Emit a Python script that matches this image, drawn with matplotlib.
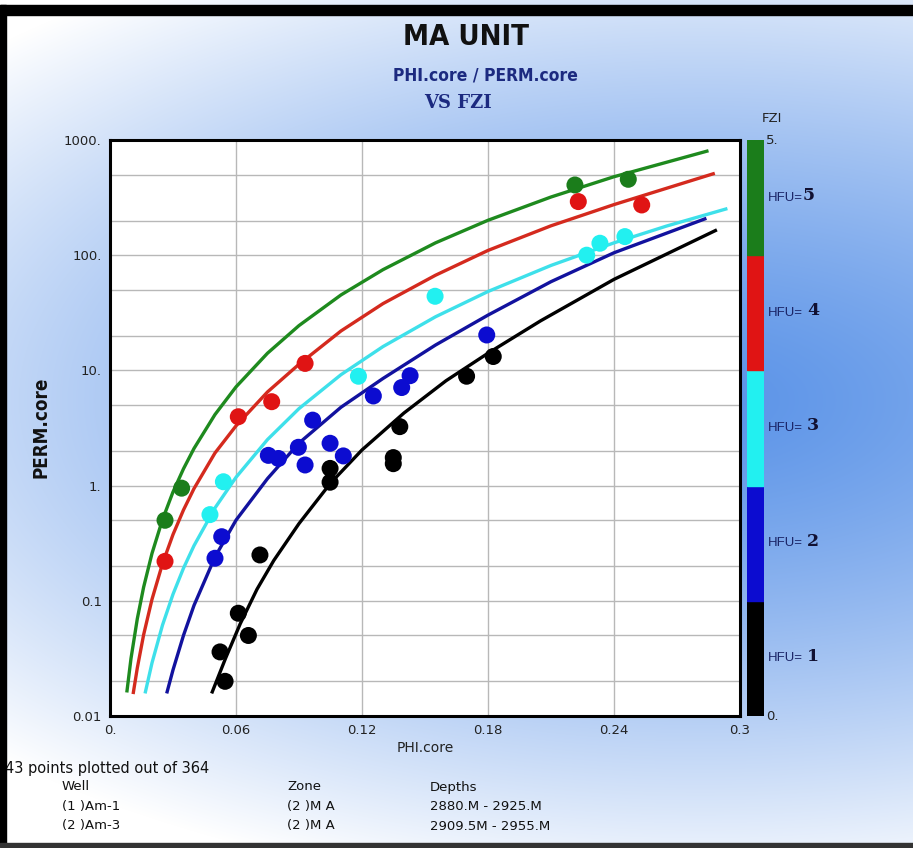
import numpy as np
import matplotlib.pyplot as plt
from matplotlib.patches import Rectangle

# FZI boundary curves (PHI.core, PERM.core)
phi_c5 = [0.008, 0.010, 0.013, 0.016, 0.020, 0.025, 0.030, 0.035, 0.040, 0.050,
          0.060, 0.075, 0.090, 0.110, 0.130, 0.155, 0.180, 0.210, 0.240, 0.285]
k_c5 = [0.016, 0.0316, 0.0698, 0.131, 0.258, 0.507, 0.881, 1.40, 2.10, 4.14,
        7.19, 14.1, 24.5, 45.2, 74.9, 128, 201, 320, 480, 807]

phi_c4 = [0.011, 0.013, 0.016, 0.020, 0.025, 0.030, 0.035, 0.040, 0.050, 0.060,
          0.075, 0.090, 0.110, 0.130, 0.155, 0.180, 0.210, 0.240, 0.288]
k_c4 = [0.0155, 0.0261, 0.0506, 0.103, 0.210, 0.376, 0.615, 0.942, 1.92, 3.3,
        6.5, 11.3, 22, 38, 67, 110, 180, 275, 514]

phi_c3 = [0.0167, 0.020, 0.025, 0.030, 0.035, 0.040, 0.050, 0.060, 0.075, 0.090,
          0.110, 0.130, 0.155, 0.180, 0.210, 0.240, 0.265, 0.294]
k_c3 = [0.0157, 0.0289, 0.0615, 0.114, 0.192, 0.301, 0.640, 1.18, 2.51, 4.66,
        9.18, 16.1, 29.2, 48.4, 81.5, 128, 179, 254]

phi_c2 = [0.027, 0.030, 0.035, 0.040, 0.050, 0.060, 0.075, 0.090, 0.110, 0.130,
          0.155, 0.180, 0.210, 0.240, 0.284]
k_c2 = [0.0157, 0.0251, 0.0501, 0.0912, 0.240, 0.501, 1.15, 2.34, 4.79, 8.51,
        16.6, 30.2, 58.9, 105, 209]

phi_c1 = [0.0484, 0.055, 0.062, 0.070, 0.078, 0.090, 0.105, 0.120, 0.140, 0.160,
          0.180, 0.205, 0.240, 0.289]
k_c1 = [0.0157, 0.0316, 0.0631, 0.126, 0.224, 0.468, 1.05, 2.04, 4.27, 8.13,
        14.1, 26.9, 61.7, 166]

# core samples by HFU
phi_h5 = [0.0262, 0.0341, 0.2214, 0.2468]
k_h5 = [0.50, 0.95, 407, 456]
phi_h4 = [0.0262, 0.0611, 0.0770, 0.0929, 0.2230, 0.2532]
k_h4 = [0.22, 3.96, 5.35, 11.5, 292, 273]
phi_h3 = [0.0476, 0.0540, 0.1183, 0.1548, 0.2270, 0.2333, 0.2452]
k_h3 = [0.56, 1.08, 8.9, 44, 100, 127, 145]
phi_h2 = [0.0500, 0.0532, 0.0754, 0.0802, 0.0897, 0.0929, 0.0965, 0.1048, 0.1111,
          0.1254, 0.1389, 0.1429, 0.1794]
k_h2 = [0.234, 0.36, 1.83, 1.72, 2.15, 1.51, 3.7, 2.33, 1.81, 6.0, 7.1, 9.0, 20.3]
phi_h1 = [0.0524, 0.0548, 0.0611, 0.0659, 0.0714, 0.1048, 0.1048, 0.1349, 0.1349,
          0.1380, 0.1698, 0.1825]
k_h1 = [0.036, 0.020, 0.078, 0.050, 0.25, 1.41, 1.07, 1.75, 1.55, 3.25, 8.9, 13.2]

hfu_labels = ['5', '4', '3', '2', '1']
hfu_cols = ['#1b7d1b', '#e01414', '#22f0f0', '#0c0cd0', '#000000']
line_cols = ['#1e8a1e', '#d42a1e', '#3ee0ea', '#12129e', '#000000']

xticks = [0, 0.06, 0.12, 0.18, 0.24, 0.3]
xticklabels = ['0.', '0.06', '0.12', '0.18', '0.24', '0.3']
yticks = [0.01, 0.1, 1, 10, 100, 1000]
yticklabels = ['0.01', '0.1', '1.', '10.', '100.', '1000.']

W, H = 913, 848
fig = plt.figure(figsize=(W / 100, H / 100), dpi=100)

# background gradient
bg = fig.add_axes([0, 0, 1, 1], zorder=-10)
yy, xx = np.mgrid[0:H, 0:W]
r = np.sqrt(((xx - 700) / 1000.0) ** 2 + ((yy - 400) / 500.0) ** 2)
v = np.clip(1 - r ** 1.3, 0, 1)
blue = np.array([92, 148, 232]) / 255.0
img = 1 - (1 - blue)[None, None, :] * v[:, :, None]
bg.imshow(img, extent=[0, W, H, 0], aspect='auto')
bg.set_xlim(0, W)
bg.set_ylim(H, 0)
bg.axis('off')

def fx(px):
    return px / W

def fy(py):
    return 1 - py / H

ax = fig.add_axes([fx(110), fy(716), fx(740) - fx(110), fy(140) - fy(716)])
ax.set_facecolor('white')
ax.set_yscale('log')
ax.set_xlim(0, 0.3)
ax.set_ylim(0.01, 1000)

curves = [(phi_c5, k_c5), (phi_c4, k_c4), (phi_c3, k_c3), (phi_c2, k_c2), (phi_c1, k_c1)]
points = [(phi_h5, k_h5), (phi_h4, k_h4), (phi_h3, k_h3), (phi_h2, k_h2), (phi_h1, k_h1)]
for (cx, cy), col in zip(curves, line_cols):
    ax.plot(cx, cy, color=col, lw=2.4, zorder=3, solid_capstyle='butt')
for (px, py), col in zip(points, hfu_cols):
    ax.scatter(px, py, s=150, color=col, edgecolors='none', zorder=4)

ax.set_xticks(xticks)
ax.set_xticklabels(xticklabels)
ax.set_yticks(yticks)
ax.set_yticklabels(yticklabels)
ax.set_yticks([m * d for d in [0.01, 0.1, 1, 10, 100] for m in (2, 5)], minor=True)
ax.yaxis.set_minor_formatter(plt.NullFormatter())
ax.tick_params(which='both', length=0, labelsize=9.5, labelcolor='#222222')
ax.tick_params(axis='x', pad=6)
ax.tick_params(axis='y', pad=6)
ax.grid(True, which='major', color='#b8b8b8', lw=1)
ax.grid(True, which='minor', axis='y', color='#b8b8b8', lw=1)
ax.set_axisbelow(True)
for s in ax.spines.values():
    s.set_linewidth(2.2)
    s.set_color('black')

ax.set_xlabel('PHI.core', fontsize=10, color='#222222', labelpad=3)
fig.text(fx(41), fy(427), 'PERM.core', rotation=90, fontsize=13.5, fontweight='bold',
         color='#111111', fontstretch='condensed', ha='center', va='center')

# HFU colour bar
cax = fig.add_axes([fx(747), fy(716), fx(764) - fx(747), fy(140) - fy(716)])
for i, col in enumerate(hfu_cols[::-1]):
    cax.add_patch(Rectangle((0, i), 1, 1, color=col))
cax.set_xlim(0, 1)
cax.set_ylim(0, 5)
cax.axis('off')
fig.text(fx(766), fy(140), '5.', fontsize=9.5, color='#222222', va='center')
fig.text(fx(766), fy(716), '0.', fontsize=9.5, color='#222222', va='center')
fig.text(fx(762), fy(119), 'FZI', fontsize=9.5, color='#222222', va='center')
for i, lab in enumerate(hfu_labels):
    yc = 140 + (i + 0.5) * 115.2
    fig.text(fx(768), fy(yc), 'HFU=', fontsize=9.5, family='Liberation Sans',
             color='#1a2466', va='center')
    fig.text(fx(803 if i == 0 else 807), fy(yc - 2), lab, fontsize=12.5, fontweight='bold',
             family='DejaVu Serif', color='#111133', va='center', ha='left')

# titles
fig.text(fx(466), fy(37), 'MA UNIT', fontsize=21, fontweight='bold', ha='center',
         va='center', color='#111111', fontstretch='condensed')
fig.text(fx(485), fy(75), 'PHI.core / PERM.core', fontsize=12.5, fontweight='bold',
         ha='center', va='center', color='#1c2a80', fontstretch='condensed')
fig.text(fx(458), fy(103), 'VS FZI', fontsize=13, fontweight='bold', ha='center',
         va='center', color='#1c2a80', family='DejaVu Serif')

# footer
fig.text(fx(5), fy(768), '43 points plotted out of 364', fontsize=10.5, color='#111111',
         va='center')
rows = [('Well', 'Zone', 'Depths'),
        ('(1 )Am-1', '(2 )M A', '2880.M - 2925.M'),
        ('(2 )Am-3', '(2 )M A', '2909.5M - 2955.M')]
for j, (a, b, c) in enumerate(rows):
    yy_ = 787 + j * 19.5
    fig.text(fx(62), fy(yy_), a, fontsize=9.5, color='#111111', va='center')
    fig.text(fx(287), fy(yy_), b, fontsize=9.5, color='#111111', va='center')
    fig.text(fx(430), fy(yy_), c, fontsize=9.5, color='#111111', va='center')

# frame
fig.add_artist(Rectangle((0, fy(15)), 1, fy(5) - fy(15), transform=fig.transFigure,
                         color='black', zorder=20))
fig.add_artist(Rectangle((0, fy(845)), fx(6), fy(5) - fy(845), transform=fig.transFigure,
                         color='black', zorder=20))
fig.add_artist(Rectangle((0, fy(847)), 1, fy(843) - fy(847), transform=fig.transFigure,
                         color='#333333', zorder=20))

fig.savefig('out.png', dpi=100)
